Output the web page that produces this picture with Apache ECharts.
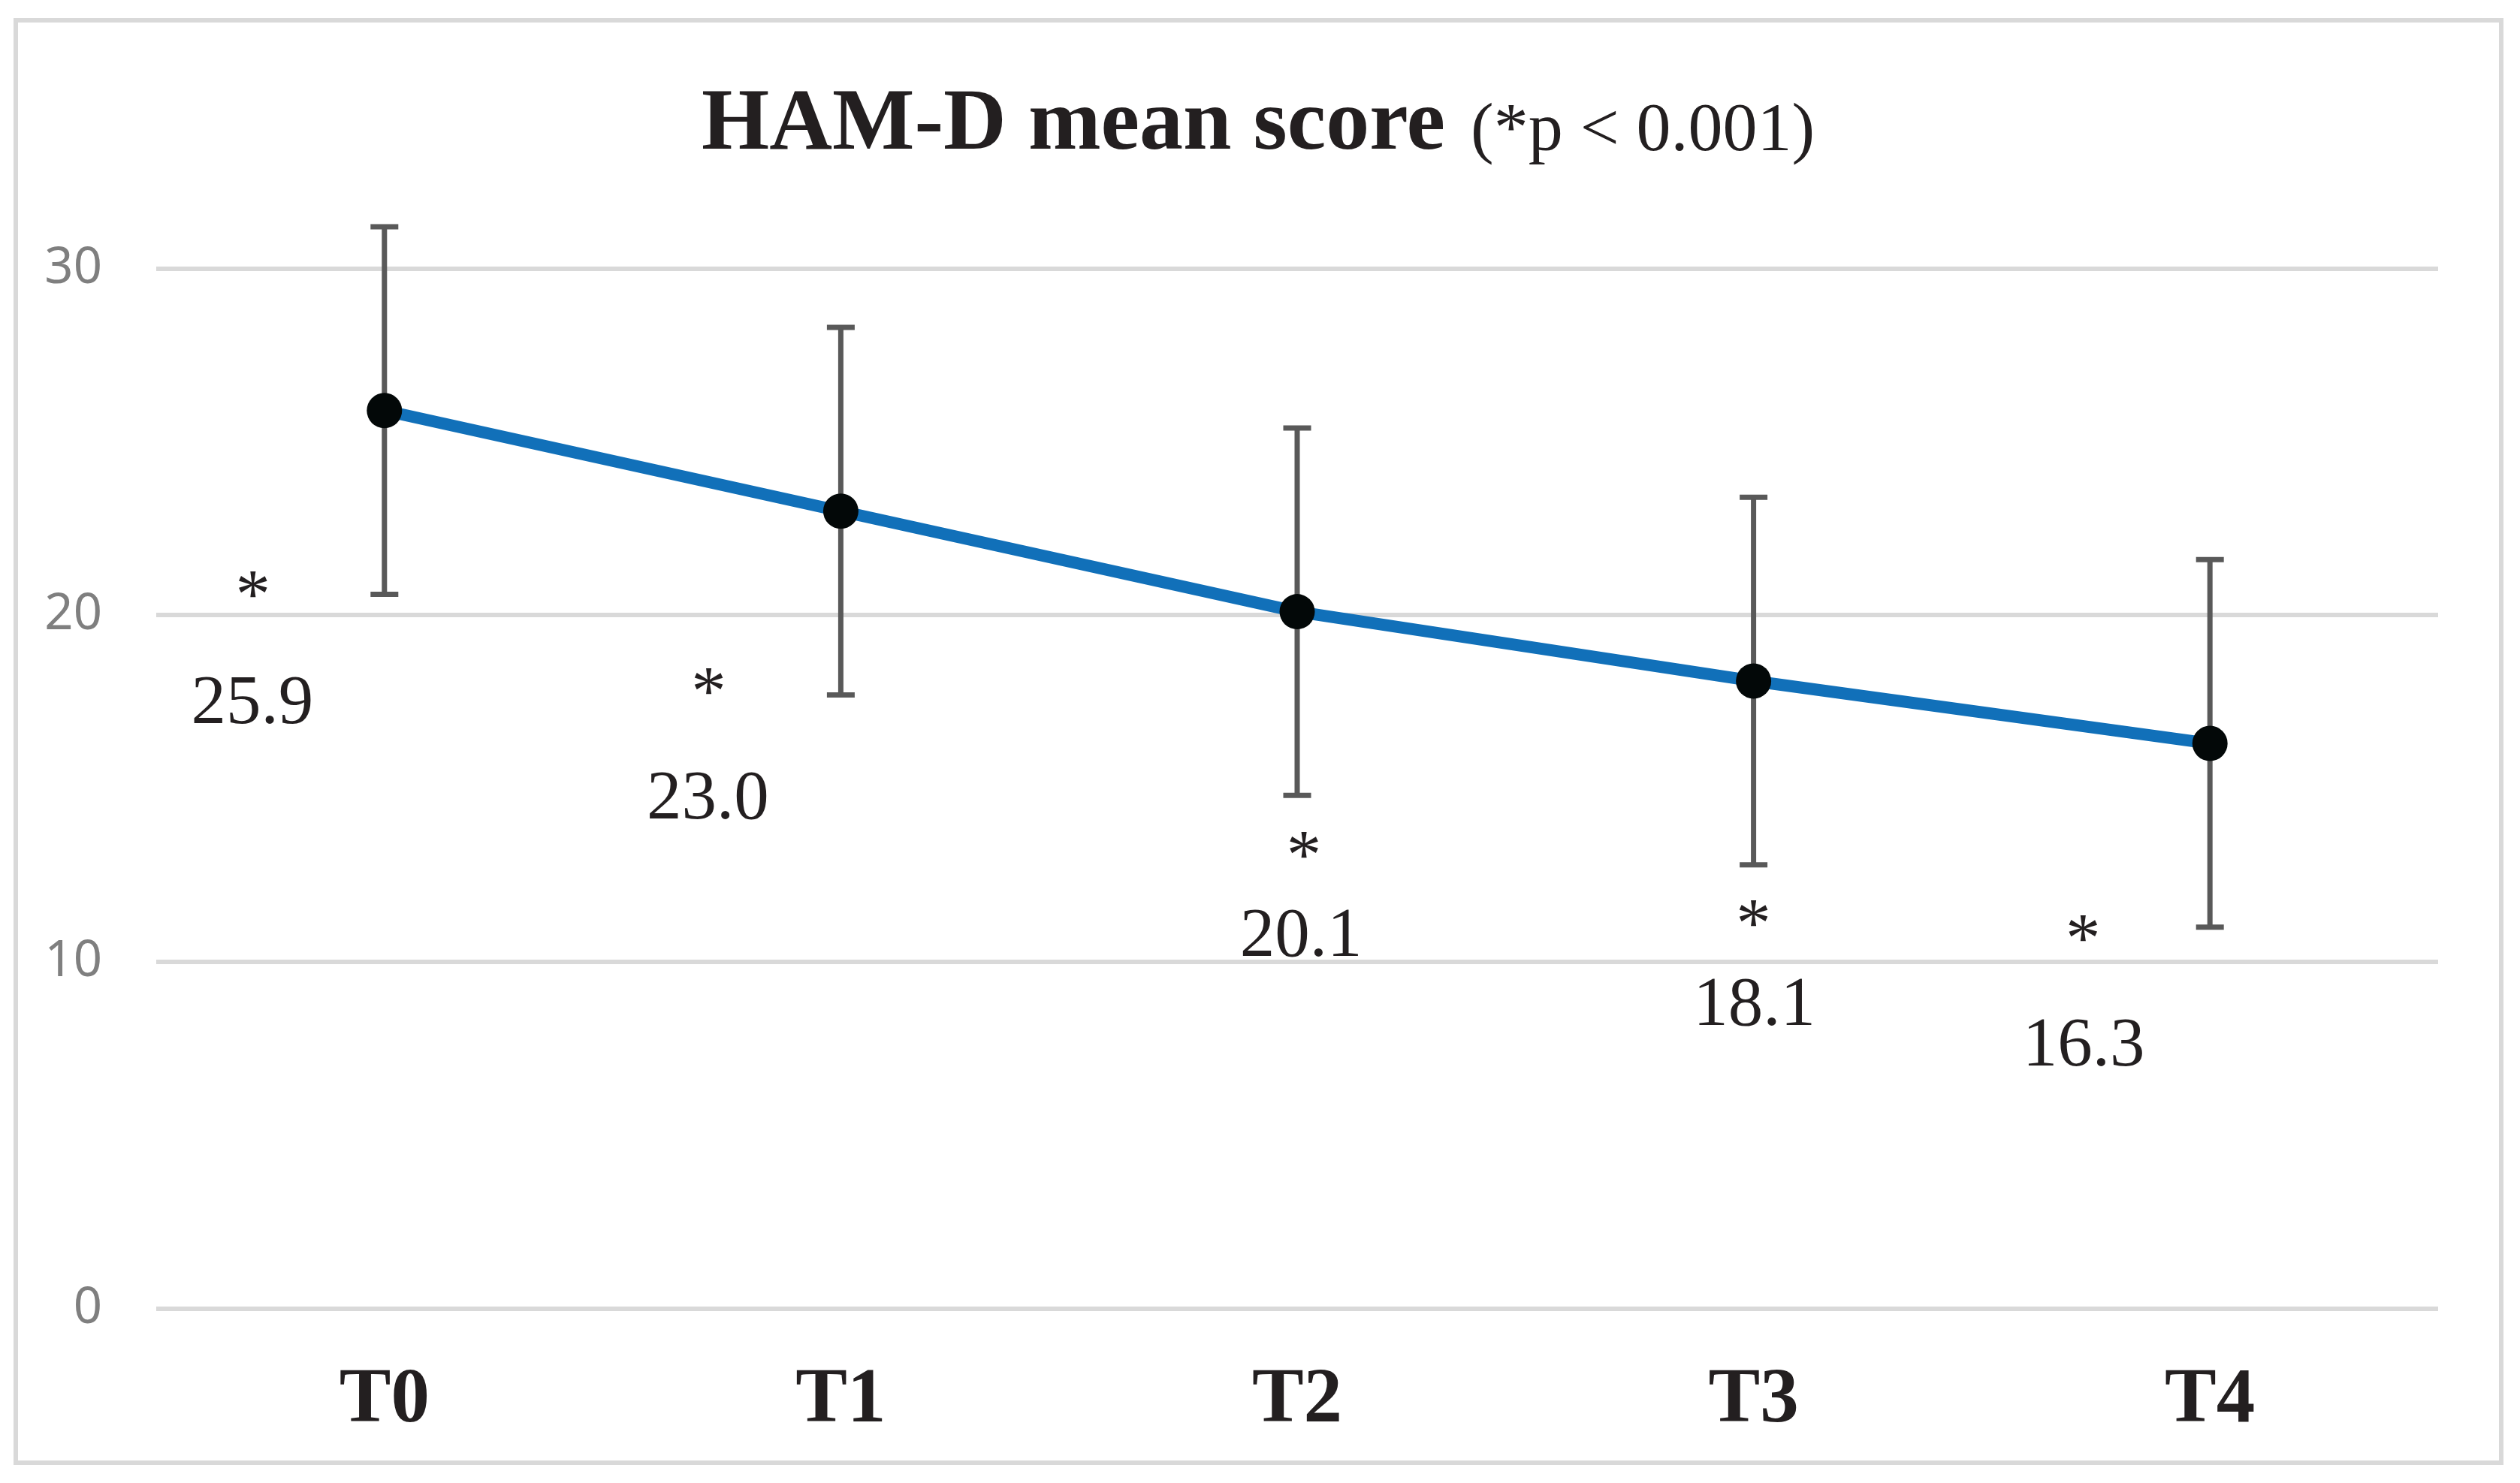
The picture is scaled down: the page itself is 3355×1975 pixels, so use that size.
<!DOCTYPE html>
<html>
<head>
<meta charset="utf-8">
<script src="https://cdn.jsdelivr.net/npm/echarts@6/dist/echarts.min.js"></script>
<style>
  html, body { margin: 0; padding: 0; background: #ffffff; }
  #chart { width: 3355px; height: 1975px; }
</style>
</head>
<body>
<div id="chart"></div>
<script>
// ---------- data ----------
const categories = ['T0', 'T1', 'T2', 'T3', 'T4'];
const means = [25.9, 23.0, 20.1, 18.1, 16.3];
const sds = [5.3, 5.3, 5.3, 5.3, 5.3];
const significance = ['*', '*', '*', '*', '*'];
const yTickValues = [0, 10, 20, 30];
const titleMain = 'HAM-D mean score';
const titleNote = '(*p < 0.001)';

// ---------- layout (pixel offsets of the hand-placed labels, relative to each point) ----------
const numberLabelOffsets = [[-176, 392], [-177, 385], [5, 434], [1, 434], [-168, 405]];
const starLabelOffsets = [[-175, 251], [-176, 246], [9, 330], [0, 329], [-169, 266]];

const serif = '"Liberation Serif", "Times New Roman", serif';
const chart = echarts.init(document.getElementById('chart'), null, { renderer: 'canvas' });

const option = {
  backgroundColor: '#ffffff',
  animation: false,
  title: [
    {
      text: titleMain, left: 934, top: 110, padding: 0,
      textStyle: { fontFamily: serif, fontWeight: 'bold', fontSize: 116, color: '#231f20' }
    },
    {
      text: titleNote, left: 1958, top: 130, padding: 0,
      textStyle: { fontFamily: serif, fontWeight: 'normal', fontSize: 92, color: '#231f20' }
    }
  ],
  graphic: [
    {
      type: 'rect', silent: true, z: -10,
      shape: { x: 21, y: 27, width: 3309, height: 1921 },
      style: { fill: 'none', stroke: '#d9d9d9', lineWidth: 6 }
    }
  ],
  grid: {
    left: 208, right: 109, top: 357.5, bottom: 232.3,
    containLabel: false, outerBoundsMode: 'none'
  },
  xAxis: {
    type: 'category',
    data: categories,
    boundaryGap: true,
    axisLine: { show: false },
    axisTick: { show: false },
    splitLine: { show: false },
    axisLabel: {
      margin: 72, fontFamily: serif, fontWeight: 'bold', fontSize: 103, color: '#231f20'
    }
  },
  yAxis: {
    type: 'value',
    min: yTickValues[0],
    max: yTickValues[yTickValues.length - 1],
    interval: 10,
    axisLine: { show: false },
    axisTick: { show: false },
    splitLine: { show: true, lineStyle: { color: '#d9d9d9', width: 6 } },
    axisLabel: { margin: 72, fontFamily: '"Noto Sans", "Open Sans", sans-serif', fontSize: 67, color: '#7f7f7f' }
  },
  series: [
    {
      name: 'SD',
      type: 'custom',
      z: 1,
      clip: false,
      data: categories.map((c, i) => [i, means[i] - sds[i], means[i] + sds[i]]),
      renderItem: function (params, api) {
        const lo = api.coord([api.value(0), api.value(1)]);
        const hi = api.coord([api.value(0), api.value(2)]);
        const half = 18.5;
        const st = { stroke: '#595959', lineWidth: 7, fill: null };
        return {
          type: 'group',
          children: [
            { type: 'line', shape: { x1: lo[0], y1: lo[1], x2: hi[0], y2: hi[1] }, style: st },
            { type: 'line', shape: { x1: hi[0] - half, y1: hi[1], x2: hi[0] + half, y2: hi[1] }, style: st },
            { type: 'line', shape: { x1: lo[0] - half, y1: lo[1], x2: lo[0] + half, y2: lo[1] }, style: st }
          ]
        };
      }
    },
    {
      name: 'HAM-D',
      type: 'line',
      z: 2,
      data: means.map((v, i) => ({
        value: v,
        label: { offset: numberLabelOffsets[i] }
      })),
      symbol: 'circle',
      symbolSize: 47,
      lineStyle: { color: '#1170b9', width: 16 },
      itemStyle: { color: '#030808', borderWidth: 0 },
      label: {
        show: true,
        position: 'inside',
        align: 'center',
        verticalAlign: 'middle',
        formatter: p => p.value.toFixed(1),
        fontFamily: serif,
        fontSize: 93,
        color: '#231f20'
      },
      emphasis: { disabled: true }
    },
    {
      name: 'significance',
      type: 'custom',
      z: 3,
      clip: false,
      data: means.map((v, i) => [i, v]),
      renderItem: function (params, api) {
        const p = api.coord([api.value(0), api.value(1)]);
        const off = starLabelOffsets[params.dataIndex];
        return {
          type: 'text',
          x: p[0] + off[0],
          y: p[1] + off[1],
          style: {
            text: significance[params.dataIndex],
            fontFamily: serif,
            fontSize: 93,
            fill: '#231f20',
            align: 'center',
            verticalAlign: 'middle'
          }
        };
      }
    }
  ]
};

chart.setOption(option);
</script>
</body>
</html>
